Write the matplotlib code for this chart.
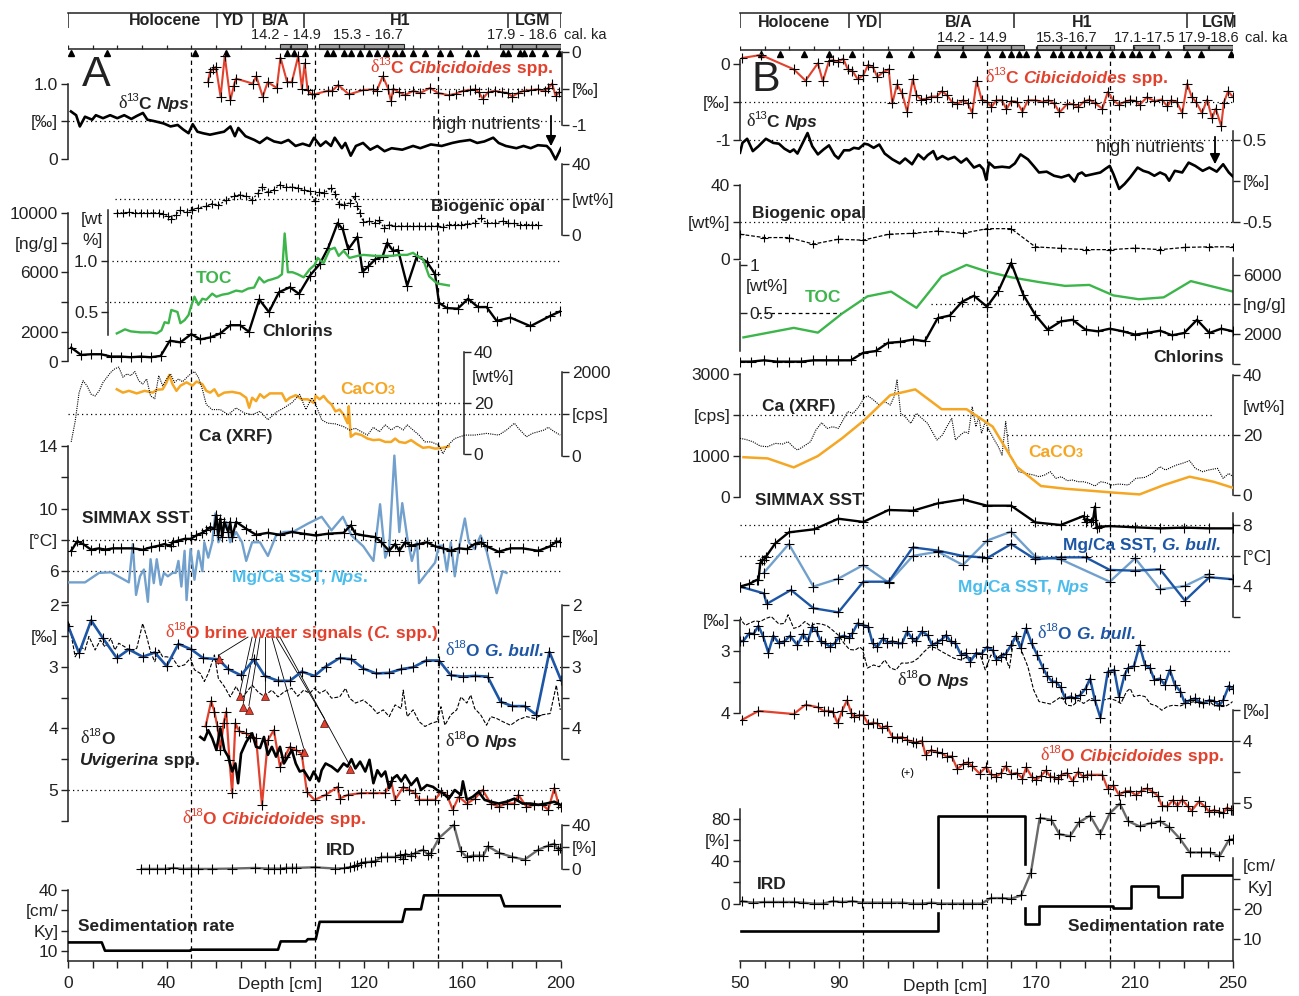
import matplotlib
matplotlib.use('Agg')
import matplotlib.pyplot as plt
from matplotlib.patches import Rectangle
import numpy as np

plt.rcParams['font.family'] = ['Liberation Sans', 'DejaVu Sans']

# ======================= DATA =======================
# ---------- Panel A (depth 0-200 cm) ----------
a_epoch_bounds = [0, 60.4, 74.9, 95.7, 178.3, 200]
a_epoch_names = ['Holocene', 'YD', 'B/A', 'H1', 'LGM']
a_epoch_label_depth = [39.4, 67.0, 84.4, 134.7, 188.6]
a_age_boxes = [(86.2, 97.0), (102.0, 136.4), (175.4, 200.0)]
a_age_box_dividers = [90.5, 110, 120, 129.9, 180.2, 190]
a_age_labels = ['14.2 - 14.9', '15.3 - 16.7', '17.9 - 18.6', 'cal. ka']
a_age_label_depth = [88.6, 121.5, 184.0, 210.0]
a_age_points = [1.2, 16, 51.5, 64, 89, 91.5, 96, 105, 107.4, 111.8, 115, 118.3, 122.3,
                125.5, 129, 132.8, 135.6, 140, 145, 150.8, 155, 162.4, 165.7, 176.6,
                178.3, 183.4, 184.8, 188.4, 193.5, 199.3]
a_boundaries = [50, 100, 150]

a_c13cib_d = [56.8, 57.6, 58.7, 60.0, 61.9, 63.6, 65.9, 67.2, 68.1, 74.9, 76.4, 79.0, 81.0, 84.7,
              86.2, 88.9, 90.8, 93.4, 94.9, 96.0, 97.2, 98.8, 99.8, 105.3, 107.2, 109.6, 114.0,
              119.7, 123.8, 125.2, 127.7, 129.9, 131.0, 132.0, 134.2, 136.7, 140.0, 142.9, 146.9,
              150.1, 154.4, 157.3, 160.2, 163.1, 165.3, 166.7, 168.2, 170.4, 173.2, 176.1, 178.3,
              180.2, 182.6, 184.8, 187.7, 190.6, 193.5, 194.9, 196.4, 197.8, 199.3]
a_c13cib = [-0.41, -0.27, -0.23, -0.20, -0.61, -0.05, -0.66, -0.47, -0.36, -0.43, -0.33, -0.61,
            -0.41, -0.49, -0.07, -0.41, -0.41, -0.05, -0.50, -0.15, -0.52, -0.58, -0.58, -0.53,
            -0.53, -0.45, -0.58, -0.52, -0.51, -0.53, -0.33, -0.50, -0.67, -0.50, -0.55, -0.59,
            -0.53, -0.56, -0.49, -0.56, -0.59, -0.57, -0.53, -0.52, -0.51, -0.55, -0.64, -0.55,
            -0.53, -0.55, -0.56, -0.61, -0.56, -0.53, -0.52, -0.51, -0.53, -0.49, -0.43, -0.60, -0.55]

a_c13nps_d = [1.2, 3.3, 4.8, 6.9, 9.8, 11.3, 14.2, 17.1, 20.0, 22.8, 25.7, 27.9, 30.4, 32.2, 35.1,
              38.8, 41.6, 44.5, 46.7, 48.9, 50.6, 52.5, 54.7, 57.6, 60.4, 63.3, 65.9, 67.7, 69.1,
              72.0, 75.6, 77.8, 80.7, 83.6, 86.5, 89.4, 92.3, 95.2, 98.0, 99.8, 102.4, 104.6,
              106.7, 108.2, 111.1, 112.5, 114.7, 116.8, 119.7, 122.6, 125.5, 128.4, 131.3, 135.6,
              140.0, 142.9, 147.2, 151.6, 155.9, 158.8, 163.1, 166.0, 168.9, 172.5, 174.7, 177.6,
              181.9, 184.8, 187.7, 190.6, 194.2, 195.7, 197.8, 200.0]
a_c13nps = [0.63, 0.58, 0.43, 0.56, 0.52, 0.58, 0.54, 0.58, 0.54, 0.58, 0.53, 0.57, 0.61, 0.52,
            0.50, 0.47, 0.43, 0.45, 0.39, 0.34, 0.46, 0.36, 0.34, 0.32, 0.34, 0.36, 0.43, 0.30,
            0.41, 0.30, 0.25, 0.21, 0.28, 0.23, 0.21, 0.25, 0.17, 0.20, 0.17, 0.28, 0.17, 0.23,
            0.17, 0.28, 0.14, 0.21, 0.04, 0.17, 0.21, 0.12, 0.17, 0.10, 0.14, 0.12, 0.17, 0.14,
            0.19, 0.17, 0.21, 0.23, 0.25, 0.21, 0.23, 0.28, 0.21, 0.17, 0.14, 0.17, 0.14, 0.18,
            0.17, 0.12, -0.01, 0.14]

a_opal_d = [19.8, 22.3, 24.7, 27.1, 29.5, 31.9, 34.4, 36.8, 38.4, 40.5, 41.9, 43.7, 45.6, 48.1,
            50.5, 52.9, 56.1, 58.5, 61.0, 64.2, 67.4, 69.8, 72.3, 74.7, 77.1, 78.7, 81.1, 83.5,
            86.0, 88.4, 90.8, 93.2, 95.6, 98.1, 100.0, 101.8, 104.0, 106.6, 108.5, 109.8, 111.8,
            114.2, 116.3, 117.4, 118.5, 119.8, 122.3, 124.7, 126.3, 128.2, 130.3, 132.7, 135.2,
            137.6, 140.0, 142.4, 144.8, 147.3, 149.7, 152.1, 154.5, 156.9, 159.4, 161.8, 165.0,
            167.4, 169.8, 173.1, 176.3, 178.7, 181.1, 183.5, 186.0, 188.4, 190.8]
a_opal = [12.2, 12.2, 12.5, 12.2, 12.2, 12.2, 12.2, 12.2, 11.8, 10.7, 8.8, 11.2, 13.7, 12.5, 14.0,
          15.0, 15.9, 17.4, 16.6, 19.3, 21.9, 22.4, 21.5, 19.6, 23.4, 26.7, 23.7, 25.2, 28.1, 26.7,
          26.7, 26.2, 25.2, 24.3, 18.7, 23.7, 23.4, 26.2, 23.0, 17.4, 16.8, 17.8, 21.5, 16.3, 12.2,
          6.9, 7.5, 6.5, 8.0, 3.7, 5.6, 4.7, 4.7, 4.7, 4.7, 4.7, 4.7, 4.7, 4.7, 4.3, 5.6, 5.6, 5.6,
          6.0, 6.5, 9.4, 6.5, 6.5, 7.5, 6.2, 6.2, 5.6, 5.6, 5.6, 5.6]

a_chl_d = [1.3, 5.3, 9.4, 13.4, 17.4, 21.5, 25.5, 29.5, 33.5, 37.6, 41.3, 45.6, 50.0, 53.7, 57.7,
           61.8, 65.8, 69.8, 73.4, 77.6, 81.5, 85.6, 90.0, 93.7, 98.1, 102.1, 105.6, 109.4, 111.5,
           113.7, 117.4, 119.5, 121.8, 124.7, 127.6, 129.5, 131.9, 133.9, 137.6, 141.6, 145.6,
           148.9, 150.5, 153.7, 158.1, 162.3, 166.3, 169.8, 173.9, 179.5, 187.6, 195.6, 199.7]
a_chl = [933, 444, 489, 489, 333, 333, 289, 333, 289, 378, 1400, 1289, 1844, 1489, 1622, 1889,
         2444, 2444, 2000, 4178, 3333, 4667, 5000, 4556, 5778, 6556, 7667, 9333, 8889, 7556, 8400,
         6044, 6400, 6889, 7067, 8000, 7444, 7511, 5111, 7111, 6711, 5889, 3956, 3600, 3556, 4222,
         3667, 3667, 2733, 2956, 2378, 3067, 3378]

a_toc_d = [19.8, 21.5, 23.1, 25.5, 29.5, 33.5, 36.0, 37.9, 39.2, 40.8, 41.9, 43.2, 44.4, 45.6,
           47.3, 48.9, 50.0, 51.3, 52.9, 54.5, 56.1, 58.5, 60.2, 62.6, 65.0, 68.2, 70.6, 73.1,
           75.5, 77.6, 79.5, 81.1, 82.7, 85.2, 86.8, 87.9, 89.2, 91.1, 93.2, 95.6, 98.1, 100.0,
           101.3, 103.7, 106.1, 108.2, 109.8, 111.8, 114.2, 117.4, 119.8, 124.7, 131.1, 134.4,
           137.6, 140.0, 141.6, 144.0, 146.5, 149.7, 152.1, 154.5]
a_toc = [0.29, 0.31, 0.33, 0.31, 0.30, 0.30, 0.29, 0.32, 0.40, 0.39, 0.52, 0.51, 0.50, 0.39, 0.42,
         0.47, 0.56, 0.65, 0.57, 0.63, 0.62, 0.68, 0.65, 0.67, 0.68, 0.71, 0.70, 0.73, 0.74, 0.84,
         0.79, 0.81, 0.82, 0.84, 0.87, 1.27, 0.89, 0.89, 0.87, 0.84, 0.92, 0.96, 1.03, 0.98, 1.11,
         1.13, 1.05, 1.10, 1.03, 1.05, 1.06, 1.05, 1.05, 1.06, 1.06, 1.08, 1.05, 1.02, 0.85, 0.78,
         0.77, 0.76]

a_caco3_d = [19.8, 22.3, 24.7, 27.9, 31.1, 34.4, 36.0, 38.4, 40.0, 41.1, 42.4, 44.0, 45.6, 48.1,
             50.5, 52.1, 54.5, 56.1, 57.7, 59.4, 61.0, 63.4, 66.6, 69.8, 72.3, 73.5, 74.7, 76.3,
             77.9, 79.5, 81.9, 84.4, 86.8, 88.4, 90.0, 92.4, 94.8, 97.3, 99.7, 100.5, 102.1, 103.7,
             105.3, 106.9, 108.5, 110.2, 111.8, 113.4, 113.9, 114.7, 116.6, 119.0, 121.5, 123.9,
             126.3, 128.7, 131.1, 132.7, 134.4, 136.8, 139.2, 141.6, 144.0, 146.5, 148.9, 152.1, 154.5]
a_caco3 = [25.4, 24.1, 24.8, 23.8, 24.8, 24.1, 25.2, 25.4, 28.1, 31.0, 27.4, 24.8, 26.8, 28.1, 26.8,
           28.4, 27.4, 24.8, 24.1, 25.4, 22.8, 24.1, 24.4, 23.8, 22.1, 18.2, 22.1, 20.8, 23.5, 22.1,
           23.8, 23.8, 23.8, 20.8, 22.1, 23.1, 21.5, 21.5, 20.1, 22.8, 21.5, 22.8, 20.8, 19.5, 16.8,
           17.5, 15.5, 12.2, 18.8, 6.9, 8.2, 7.6, 6.2, 5.6, 5.8, 4.9, 4.9, 6.2, 4.9, 4.5, 5.6, 4.0,
           2.6, 2.9, 2.3, 2.6, 3.2]

a_ca_d = [1.3, 2.9, 4.5, 6.1, 7.7, 9.4, 11.0, 12.6, 14.2, 15.8, 17.4, 19.0, 20.6, 22.3, 23.9, 25.5,
          27.1, 28.7, 30.3, 31.9, 33.5, 35.2, 36.8, 38.4, 40.0, 41.6, 43.2, 44.8, 46.5, 48.9, 51.3,
          52.9, 54.5, 56.1, 58.5, 61.8, 65.0, 68.2, 71.5, 74.7, 77.9, 81.1, 84.4, 87.6, 90.8, 94.0,
          96.5, 98.9, 100.5, 102.9, 105.3, 108.5, 111.8, 114.2, 116.6, 119.0, 121.5, 123.9, 126.3,
          128.7, 131.1, 133.5, 136.0, 137.6, 140.0, 142.4, 144.8, 147.3, 150.5, 152.1, 153.7,
          156.9, 161.0, 165.0, 169.8, 174.7, 177.9, 181.1, 182.7, 186.0, 188.4, 190.8, 193.2,
          194.8, 197.3, 199.7]
a_ca = [327, 816, 1510, 1796, 1673, 1469, 1429, 1551, 1755, 1878, 2000, 2082, 2122, 1878, 1959,
        1918, 2016, 1796, 1714, 1837, 1429, 1363, 1918, 1673, 1837, 1959, 1755, 1837, 1771, 1918,
        2016, 1878, 1592, 1224, 1102, 1102, 980, 1143, 1020, 980, 1061, 857, 1037, 1143, 1265,
        1469, 1102, 1388, 1224, 857, 776, 759, 694, 612, 653, 571, 490, 678, 571, 735, 612, 710,
        612, 735, 612, 490, 327, 327, 245, 41, 220, 408, 490, 490, 531, 490, 612, 776, 653, 449,
        531, 571, 612, 678, 571, 490]

a_simmax_d = [1.3, 3.7, 6.1, 9.4, 12.6, 15.0, 18.2, 21.5, 26.3, 30.3, 33.5, 36.8, 39.2, 41.6, 42.4,
              44.8, 47.3, 49.7, 52.1, 54.5, 56.1, 57.7, 59.4, 60.2, 61.0, 61.8, 62.6, 63.4, 65.0,
              65.8, 66.6, 68.2, 72.3, 76.3, 81.1, 86.0, 90.8, 95.6, 100.5, 105.3, 111.8, 114.7,
              116.6, 119.8, 124.7, 127.1, 130.3, 132.7, 134.4, 136.8, 139.2, 142.4, 145.6, 148.9,
              152.1, 155.3, 158.5, 161.8, 165.0, 167.4, 169.8, 174.7, 179.5, 184.4, 190.8, 195.6,
              198.1, 199.7]
a_simmax = [7.28, 7.89, 7.72, 7.35, 7.44, 7.35, 7.44, 7.44, 7.44, 7.35, 7.50, 7.61, 7.72, 7.57,
            7.83, 7.94, 8.05, 8.05, 8.27, 8.44, 8.60, 8.81, 8.70, 9.58, 8.27, 9.36, 8.16, 9.14,
            8.49, 9.14, 8.16, 9.14, 8.70, 8.31, 8.44, 8.31, 8.49, 8.38, 8.27, 8.38, 8.44, 8.92,
            8.38, 8.27, 8.16, 7.83, 7.28, 7.72, 7.28, 7.83, 7.61, 7.72, 7.83, 7.57, 7.44, 7.28,
            7.44, 7.39, 7.72, 7.83, 7.57, 7.22, 7.44, 7.44, 7.28, 7.57, 7.87, 7.87]

a_mgca_d = [0.5, 6.9, 12.6, 17.4, 24.7, 26.3, 27.6, 29.2, 30.8, 32.4, 33.5, 34.8, 36.0, 37.6, 38.9,
            40.5, 42.4, 43.7, 44.8, 46.0, 47.3, 48.1, 49.7, 51.3, 52.9, 54.5, 55.3, 56.9, 58.5,
            59.8, 61.0, 62.6, 64.2, 65.8, 68.2, 70.6, 72.3, 74.7, 77.9, 81.1, 84.4, 87.6, 91.6,
            97.3, 102.9, 106.9, 111.5, 115.0, 119.8, 123.9, 126.6, 128.7, 130.3, 132.4, 134.4,
            135.6, 137.6, 139.5, 141.6, 142.4, 145.6, 148.9, 150.5, 152.1, 153.7, 155.3, 156.9,
            158.5, 161.0, 162.6, 165.0, 167.4, 169.8, 173.9, 176.3, 177.9]
a_mgca = [5.25, 5.25, 5.86, 5.90, 5.25, 7.72, 4.44, 5.64, 6.08, 4.00, 6.74, 5.20, 6.74, 5.09, 5.86,
          5.64, 5.86, 5.86, 6.63, 4.98, 7.28, 4.11, 7.39, 5.42, 7.28, 5.97, 7.83, 6.84, 7.83, 9.69,
          7.83, 8.38, 9.14, 7.83, 8.49, 7.83, 6.63, 7.83, 7.83, 6.95, 8.27, 8.49, 8.53, 9.03, 9.47,
          8.60, 9.47, 8.27, 7.57, 6.63, 10.28, 6.84, 7.50, 13.41, 8.49, 10.35, 8.16, 6.63, 7.83,
          5.20, 5.86, 6.52, 7.61, 7.61, 5.97, 7.83, 5.64, 7.39, 9.36, 7.83, 7.39, 8.27, 7.28, 4.55,
          5.97, 5.86]

a_gbull_d = [0.0, 4.5, 9.4, 14.2, 19.8, 24.7, 30.3, 35.2, 40.0, 44.8, 50.0, 54.8, 61.0, 65.0, 70.2,
             75.5, 79.8, 85.2, 90.0, 94.8, 100.0, 104.5, 110.2, 115.0, 119.8, 125.0, 130.3, 135.2,
             140.0, 145.3, 150.5, 155.3, 160.2, 165.0, 170.2, 175.5, 180.3, 185.2, 190.0, 195.3, 200.0]
a_gbull = [2.34, 2.78, 2.25, 2.54, 2.86, 2.72, 2.84, 2.77, 2.99, 2.63, 2.72, 2.86, 2.88, 3.04, 3.14,
           2.88, 3.15, 3.23, 3.23, 3.08, 3.15, 3.00, 2.86, 2.88, 3.03, 3.11, 3.10, 3.04, 3.01, 2.90,
           2.90, 3.14, 3.16, 3.15, 3.16, 3.57, 3.64, 3.64, 3.78, 2.76, 3.22]

a_o18nps_d = [0.5, 2.9, 5.3, 6.9, 8.5, 11.0, 13.1, 15.0, 17.4, 19.0, 20.6, 23.1, 25.5, 27.9, 30.3,
              31.9, 33.5, 35.2, 36.8, 38.4, 40.0, 42.4, 44.8, 47.3, 49.7, 51.3, 53.7, 55.3, 56.9,
              59.4, 61.0, 63.4, 65.8, 68.2, 70.6, 73.1, 74.7, 77.1, 79.5, 82.7, 85.2, 87.6, 90.8,
              93.2, 95.6, 98.1, 100.0, 102.1, 104.5, 106.9, 110.2, 112.6, 114.2, 116.6, 119.8,
              123.1, 125.5, 127.9, 130.3, 132.7, 135.2, 136.0, 137.6, 140.0, 142.4, 144.8, 147.3,
              149.7, 151.3, 152.9, 155.3, 157.7, 159.4, 161.8, 163.4, 165.0, 167.4, 169.8, 171.5,
              173.9, 176.3, 179.5, 182.7, 186.0, 189.2, 192.4, 195.6, 198.1, 199.7]
a_o18nps = [2.30, 2.84, 2.68, 2.73, 2.51, 2.73, 2.57, 2.68, 2.54, 2.73, 2.62, 2.68, 2.76, 2.70, 2.30,
            2.51, 2.76, 2.92, 2.73, 2.84, 2.84, 2.86, 3.00, 2.97, 2.86, 3.05, 3.11, 3.24, 3.11, 2.81,
            3.19, 3.32, 3.49, 3.32, 3.51, 3.38, 3.30, 3.41, 3.48, 3.38, 3.49, 3.41, 3.35, 3.48, 3.38,
            3.43, 3.35, 3.43, 3.38, 3.51, 3.49, 3.35, 3.51, 3.59, 3.54, 3.65, 3.76, 3.70, 3.81, 3.62,
            3.68, 3.38, 3.81, 3.70, 3.89, 3.97, 3.92, 3.89, 3.65, 3.95, 3.78, 3.70, 3.49, 3.59, 3.46,
            3.68, 3.78, 3.95, 3.81, 3.84, 3.89, 3.95, 3.86, 3.81, 3.84, 3.78, 3.76, 3.30, 3.70]

a_uvi_d = [53.7, 55.3, 56.9, 58.5, 60.2, 61.8, 63.4, 65.0, 66.6, 67.9, 69.0, 70.2, 72.3, 74.7,
           76.3, 77.9, 79.5, 81.1, 82.7, 84.4, 86.0, 87.6, 89.2, 90.8, 92.4, 94.0, 95.6, 98.1,
           99.7, 101.8, 102.9, 104.5, 106.9, 109.4, 111.8, 113.4, 115.0, 116.6, 118.5, 120.6,
           122.3, 123.9, 125.5, 127.1, 128.7, 130.3, 131.9, 133.5, 135.2, 136.8, 139.2, 141.6,
           143.2, 145.6, 148.1, 149.7, 152.1, 154.5, 156.9, 159.4, 160.2, 161.8, 164.2, 166.6,
           169.0, 171.5, 174.7, 177.9, 181.1, 184.4, 187.6, 190.8, 194.0, 197.3, 199.7]
a_uvi = [4.14, 4.19, 4.03, 4.16, 4.35, 4.00, 4.35, 4.46, 4.70, 4.57, 4.89, 4.41, 4.22, 4.08, 4.30,
         4.32, 4.14, 4.43, 4.30, 4.46, 4.30, 4.57, 4.46, 4.35, 4.57, 4.70, 4.68, 4.84, 4.70, 4.86,
         4.68, 4.57, 4.62, 4.70, 4.57, 4.62, 4.50, 4.65, 4.54, 4.70, 4.51, 4.89, 4.68, 4.78, 4.70,
         4.97, 4.81, 4.76, 4.86, 4.76, 4.92, 4.81, 5.00, 4.92, 4.95, 5.00, 5.05, 5.14, 5.00, 5.08,
         4.86, 5.16, 5.11, 5.03, 5.16, 5.19, 5.22, 5.19, 5.14, 5.22, 5.22, 5.24, 5.22, 5.19, 5.24]

a_o18cib_d = [55.8, 58.1, 59.4, 60.6, 61.8, 63.1, 64.2, 65.5, 66.6, 67.9, 69.5, 72.3, 73.9, 76.3,
              78.7, 81.1, 83.5, 86.0, 87.9, 90.0, 92.4, 94.8, 96.9, 100.0, 104.5, 109.4, 110.2,
              113.4, 119.0, 123.9, 128.7, 131.1, 132.7, 136.0, 138.4, 140.8, 142.4, 145.6, 148.9,
              151.3, 153.7, 156.1, 158.5, 161.8, 165.0, 168.2, 171.5, 174.7, 177.9, 181.1, 182.7,
              186.0, 189.2, 192.4, 194.8, 197.3, 198.9, 200.0]
a_o18cib = [3.97, 3.56, 3.73, 3.97, 4.35, 3.92, 3.73, 4.51, 5.05, 3.92, 4.05, 4.08, 4.14, 4.16,
            5.24, 4.19, 4.03, 4.62, 4.46, 4.30, 4.35, 4.41, 5.03, 5.16, 5.08, 4.95, 5.14, 5.08,
            5.05, 5.05, 5.05, 4.86, 5.16, 4.95, 5.00, 5.05, 5.16, 5.16, 5.16, 5.03, 5.08, 5.32,
            5.11, 5.22, 5.14, 5.00, 5.22, 5.27, 5.22, 5.22, 5.08, 5.27, 5.24, 5.24, 5.32, 4.97,
            5.22, 5.27]

a_brine_d = [61.3, 69.8, 71.1, 73.4, 79.8, 95.6, 104.0, 114.2]
a_brine = [2.88, 3.48, 3.66, 3.70, 3.48, 4.39, 3.91, 4.66]

a_ird_d = [29.8, 32.7, 36.0, 39.2, 42.7, 46.5, 50.0, 52.9, 58.5, 66.6, 76.0, 81.1, 83.5, 86.0,
           88.4, 90.8, 92.4, 100.0, 108.5, 111.8, 114.2, 116.1, 117.4, 119.0, 120.6, 123.1, 124.7,
           127.1, 129.5, 132.7, 134.7, 136.0, 136.8, 139.2, 140.8, 144.0, 146.0, 147.3, 150.5,
           156.5, 159.4, 161.8, 164.2, 166.6, 168.5, 170.3, 175.0, 180.3, 185.2, 190.8, 194.8,
           197.3, 198.9, 199.7]
a_ird = [0, 0, 0, 0, 0.9, 0, 0.3, 0, 0, 0.3, 0.9, 0.3, 0.3, 0.3, 0.9, 0.9, 0.9, 1.5, 0.3, 0.6, 1.5,
         2.4, 3.6, 5.4, 6.0, 6.6, 6.9, 10.8, 10.8, 10.8, 12.9, 9.0, 13.8, 11.4, 14.4, 17.4, 12.9,
         14.4, 28.0, 40.0, 15.9, 10.8, 12.0, 12.0, 12.0, 20.5, 14.4, 10.8, 8.4, 17.4, 21.1, 22.9,
         17.4, 19.0]

a_sed_d = [0, 13.7, 15.0, 49.7, 50.0, 85.2, 86.3, 96.5, 97.3, 100.5, 102.1, 135.6, 136.8, 143.2,
           144.4, 175.5, 177.1, 200]
a_sed = [14.1, 14.1, 10.0, 10.0, 10.5, 10.5, 14.6, 14.6, 15.7, 15.7, 24.3, 24.3, 30.5, 30.5, 37.4,
         37.4, 32.0, 32.0]

# ---------- Panel B (depth 50-250 cm) ----------
b_epoch_bounds = [50, 94.4, 106.8, 161, 231.4, 250]
b_epoch_names = ['Holocene', 'YD', 'B/A', 'H1', 'LGM']
b_epoch_label_depth = [71.9, 101.5, 138.8, 188.7, 244.5]
b_age_boxes = [(129.9, 165.3), (170.6, 201.8), (209.4, 219.9), (229.9, 250.0)]
b_age_box_dividers = [140.4, 150.2, 160, 180.4, 190.5, 240.4]
b_age_labels = ['14.2 - 14.9', '15.3-16.7', '17.1-17.5', '17.9-18.6', 'cal. ka']
b_age_label_depth = [144.1, 182.7, 214.0, 240.0, 263.5]
b_age_points = [58.5, 66.1, 76, 86.1, 95.6, 110.3, 119.3, 129.9, 140.4, 150.2, 156.3, 160, 163,
                166, 170.6, 177.1, 180.4, 184.2, 187.9, 191.7, 195.5, 200.8, 204.8, 209, 212,
                217.3, 223.8, 231.4, 237, 249]
b_boundaries = [100, 150, 200]

b_c13cib_d = [51.0, 58.5, 71.8, 76.6, 81.6, 83.6, 86.1, 87.6, 89.9, 91.9, 93.7, 95.6, 97.7, 100.0,
              102.0, 103.9, 105.7, 108.0, 110.3, 111.8, 113.7, 115.8, 117.8, 120.1, 121.6, 123.4,
              125.3, 127.6, 129.9, 131.8, 133.9, 135.9, 138.2, 140.4, 142.4, 144.2, 146.0, 148.0,
              150.2, 152.0, 154.0, 156.3, 158.1, 160.0, 162.3, 164.6, 166.8, 169.8, 172.9, 175.1,
              177.4, 179.6, 182.7, 184.9, 187.2, 189.4, 191.7, 194.0, 197.0, 199.2, 201.5, 203.8,
              206.0, 208.3, 210.6, 212.1, 215.1, 218.1, 221.1, 223.4, 224.9, 227.1, 229.4, 231.4,
              233.2, 235.0, 237.4, 239.5, 241.5, 243.0, 245.2, 246.3, 248.0, 249.8]
b_c13cib = [0.08, 0.12, -0.07, -0.22, 0.01, -0.23, 0.04, 0.05, 0.03, 0.07, -0.07, -0.09, -0.20,
            -0.15, -0.01, -0.04, -0.17, -0.11, -0.07, -0.52, -0.27, -0.39, -0.63, -0.20, -0.41,
            -0.47, -0.46, -0.43, -0.43, -0.36, -0.41, -0.50, -0.53, -0.48, -0.52, -0.65, -0.22,
            -0.47, -0.50, -0.57, -0.48, -0.48, -0.60, -0.49, -0.50, -0.63, -0.48, -0.48, -0.50,
            -0.48, -0.52, -0.64, -0.53, -0.53, -0.57, -0.50, -0.47, -0.52, -0.59, -0.37, -0.48,
            -0.54, -0.50, -0.48, -0.49, -0.54, -0.44, -0.49, -0.47, -0.56, -0.48, -0.50, -0.65,
            -0.26, -0.43, -0.50, -0.65, -0.47, -0.72, -0.59, -0.82, -0.51, -0.36, -0.43]

b_c13nps_d = [50.0, 51.0, 52.9, 55.2, 57.5, 60.5, 63.5, 65.8, 68.0, 70.3, 71.8, 73.3, 74.8, 77.4,
              79.3, 81.6, 83.9, 86.1, 88.4, 89.9, 92.2, 94.4, 96.2, 98.2, 100.5, 102.0, 104.2,
              106.5, 108.7, 111.8, 114.8, 117.0, 119.8, 122.3, 124.6, 126.1, 128.4, 129.9, 132.1,
              134.4, 137.0, 139.7, 141.9, 144.9, 147.2, 148.7, 149.9, 151.0, 153.2, 156.3, 159.3,
              161.5, 163.8, 166.8, 169.1, 171.3, 174.4, 177.4, 180.4, 183.4, 185.7, 187.2, 188.7,
              190.2, 193.2, 196.2, 198.5, 200.0, 201.5, 203.8, 206.0, 208.3, 211.3, 213.6, 215.8,
              218.1, 220.4, 222.6, 224.1, 226.4, 229.4, 232.0, 234.7, 237.7, 240.4, 243.4, 246.0,
              248.3, 250.0]
b_c13nps = [0.34, 0.46, 0.51, 0.36, 0.42, 0.51, 0.46, 0.45, 0.39, 0.35, 0.38, 0.33, 0.42, 0.58,
            0.42, 0.32, 0.38, 0.43, 0.31, 0.27, 0.37, 0.37, 0.40, 0.39, 0.45, 0.44, 0.40, 0.44,
            0.33, 0.26, 0.21, 0.27, 0.20, 0.32, 0.26, 0.31, 0.36, 0.26, 0.30, 0.26, 0.29, 0.22,
            0.27, 0.16, 0.19, 0.14, 0.01, 0.22, 0.16, 0.17, 0.16, 0.21, 0.32, 0.26, 0.18, 0.10,
            0.11, 0.06, 0.04, 0.07, -0.01, 0.08, 0.10, 0.06, 0.08, 0.10, 0.15, 0.18, 0.08, -0.10,
            -0.04, 0.04, 0.16, 0.12, 0.10, 0.06, 0.10, 0.07, 0.00, 0.12, 0.10, 0.22, 0.18, 0.12,
            0.16, 0.11, 0.20, 0.10, 0.05]

b_opal_d = [50.0, 59.7, 69.8, 79.8, 89.9, 100.0, 110.3, 120.1, 130.2, 140.4, 150.2, 160.0, 169.8,
            180.1, 190.2, 200.3, 210.3, 220.4, 230.5, 240.4, 250.0]
b_opal = [13.3, 11.5, 11.5, 8.0, 10.6, 10.1, 13.3, 13.8, 15.0, 13.8, 16.3, 16.3, 6.5, 5.7, 5.0,
          5.0, 5.8, 5.0, 6.2, 6.5, 6.5]

b_toc_d = [51.4, 71.8, 81.6, 91.4, 101.7, 111.3, 121.6, 131.8, 141.9, 150.2, 160.0, 171.3, 181.9,
           191.7, 201.5, 211.8, 221.9, 232.9, 250.0]
b_toc = [0.24, 0.34, 0.29, 0.49, 0.67, 0.72, 0.55, 0.88, 1.00, 0.93, 0.87, 0.82, 0.78, 0.79, 0.68,
         0.64, 0.66, 0.83, 0.72]

b_chl_d = [50.0, 54.4, 59.7, 65.0, 69.8, 74.8, 79.8, 84.9, 89.9, 94.9, 100.0, 105.0, 110.0, 115.1,
           120.1, 125.0, 130.2, 135.1, 140.1, 144.9, 150.2, 154.8, 160.0, 165.0, 169.8, 174.8,
           180.1, 184.9, 190.2, 195.2, 200.0, 205.3, 210.3, 215.1, 220.4, 225.3, 230.2, 235.4,
           240.4, 245.2, 250.0]
b_chl = [133, 133, 222, 133, 133, 133, 222, 222, 222, 222, 733, 844, 1400, 1467, 1622, 1511, 3067,
         3244, 4178, 4578, 3844, 4889, 6800, 4622, 3289, 2289, 2844, 2956, 2289, 2178, 2356, 2178,
         1956, 2067, 2222, 1911, 2067, 2956, 2067, 2356, 2178]

b_ca_d = [50.0, 52.2, 55.2, 58.2, 61.2, 64.3, 67.3, 69.5, 71.8, 73.3, 75.6, 78.6, 80.8, 83.1, 85.4,
          87.6, 89.9, 92.2, 93.7, 95.9, 98.2, 100.5, 102.0, 104.2, 106.5, 108.7, 111.0, 112.5,
          113.7, 115.2, 117.0, 119.3, 121.6, 123.8, 126.1, 127.6, 129.9, 132.1, 133.9, 135.9,
          137.4, 139.4, 141.2, 142.7, 144.2, 145.7, 146.9, 148.0, 149.5, 151.0, 153.2, 154.8,
          156.3, 157.8, 159.3, 160.8, 163.0, 166.1, 169.1, 171.3, 173.6, 175.9, 178.1, 180.4,
          182.7, 184.9, 187.2, 189.4, 191.7, 194.0, 196.2, 198.5, 200.8, 203.8, 207.5, 210.6,
          214.3, 217.3, 220.4, 222.6, 224.9, 227.1, 229.4, 232.4, 234.7, 237.7, 240.0, 243.7,
          246.0, 248.3, 250.0]
b_ca = [1429, 1404, 1347, 1241, 1224, 1306, 1290, 1347, 1208, 1143, 1224, 1347, 1633, 1812, 1673,
        1714, 1673, 1918, 2082, 2041, 2204, 2433, 2465, 2367, 2245, 2327, 2245, 2449, 2857, 2041,
        1959, 1796, 2041, 1918, 1796, 1633, 1388, 1510, 1714, 1918, 1388, 1510, 1592, 1551, 2204,
        1714, 1959, 1551, 1837, 1633, 1388, 1224, 1020, 1837, 1020, 898, 612, 571, 531, 490, 531,
        612, 449, 490, 392, 408, 367, 367, 327, 261, 367, 343, 286, 310, 286, 449, 473, 571, 735,
        653, 718, 776, 816, 882, 694, 612, 653, 694, 449, 571, 490]

b_caco3_d = [51.4, 61.2, 71.8, 81.6, 91.4, 100.5, 111.0, 121.1, 131.8, 141.9, 152.5, 162.3, 172.1,
             181.9, 192.5, 201.5, 212.1, 221.9, 232.4, 242.2, 250.0]
b_caco3 = [12.6, 12.2, 9.2, 13.0, 18.9, 25.0, 33.3, 35.2, 28.6, 28.6, 22.8, 9.4, 3.0, 2.1, 1.4,
           0.8, 0.2, 3.3, 6.1, 4.4, 2.4]

b_simmax_d = [50.0, 53.7, 56.7, 57.5, 58.2, 59.0, 59.7, 60.5, 64.3, 69.8, 80.1, 89.9, 100.0, 110.3,
              120.1, 130.2, 140.4, 150.2, 160.0, 169.8, 180.1, 189.4, 190.2, 190.9, 192.5, 193.2,
              194.0, 194.7, 195.5, 200.0, 210.3, 220.4, 230.2, 240.4, 250.0]
b_simmax = [3.98, 4.15, 4.41, 4.41, 5.50, 5.72, 5.72, 5.93, 6.80, 7.52, 7.72, 8.41, 8.20, 8.98,
            8.93, 9.41, 9.67, 9.26, 9.26, 8.17, 8.00, 8.59, 8.22, 8.37, 8.22, 8.33, 9.20, 7.78,
            7.89, 7.93, 7.85, 7.78, 7.83, 7.78, 7.78]

b_mgca_gb_d = [50.0, 59.7, 60.8, 70.7, 79.8, 89.9, 100.0, 110.3, 120.1, 130.2, 140.4, 148.0, 150.2,
               160.0, 169.8, 180.1, 190.2, 200.0, 210.3, 220.4, 230.5, 240.4, 250.0]
b_mgca_gb = [3.98, 3.54, 2.85, 3.76, 2.57, 2.30, 4.30, 4.30, 6.54, 6.33, 5.98, 5.89, 5.83, 6.76,
             5.76, 5.89, 5.89, 5.07, 5.02, 5.11, 3.07, 4.59, 4.46]

b_mgca_nps_d = [59.7, 69.8, 79.8, 89.9, 100.0, 110.3, 120.1, 130.2, 140.4, 150.2, 160.0, 169.8,
                180.1, 200.0, 210.3, 220.4, 230.5, 240.4]
b_mgca_nps = [4.89, 6.76, 3.98, 4.50, 5.39, 4.24, 5.98, 6.26, 5.39, 6.98, 7.57, 5.93, 5.76, 4.30,
              5.83, 3.80, 4.02, 4.80]

b_gbull_d = [50.0, 51.4, 53.7, 55.5, 57.5, 59.4, 61.5, 63.5, 65.8, 68.0, 70.3, 73.3, 75.6, 77.5,
             79.3, 81.1, 82.7, 84.6, 86.6, 88.4, 90.2, 92.2, 94.4, 95.6, 97.7, 100.0, 102.0, 103.8,
             105.7, 108.0, 109.8, 111.8, 114.0, 115.8, 117.8, 119.8, 121.3, 123.8, 126.1, 127.9,
             129.9, 131.8, 133.6, 135.4, 137.4, 139.7, 141.5, 143.4, 145.7, 148.0, 150.2, 152.5,
             154.0, 156.0, 157.8, 160.0, 161.8, 163.8, 166.1, 168.3, 170.6, 172.9, 174.7, 176.6,
             178.1, 180.1, 181.9, 184.2, 185.7, 187.9, 190.2, 192.0, 194.0, 196.2, 199.2, 201.8,
             203.8, 206.0, 207.5, 209.8, 212.1, 214.3, 216.3, 218.1, 220.4, 222.3, 224.4, 226.4,
             228.7, 230.5, 232.4, 234.7, 236.2, 238.0, 240.4, 242.2, 244.5, 246.0, 248.3, 250.0]
b_gbull = [2.85, 2.84, 2.72, 2.73, 2.60, 2.77, 3.03, 2.76, 2.88, 2.85, 2.76, 2.91, 2.73, 2.85, 2.61,
           2.69, 2.85, 2.88, 2.94, 2.88, 2.78, 2.76, 2.80, 2.72, 2.56, 2.59, 2.61, 2.88, 2.94, 2.80,
           2.87, 2.85, 2.88, 2.88, 2.69, 2.80, 2.85, 2.69, 2.75, 2.91, 2.87, 2.82, 2.75, 2.85, 2.88,
           3.07, 3.04, 3.18, 3.04, 3.05, 2.94, 2.99, 3.15, 3.10, 3.05, 2.91, 2.77, 2.96, 2.64, 2.88,
           3.07, 3.28, 3.41, 3.50, 3.50, 3.59, 3.77, 3.74, 3.77, 3.72, 3.61, 3.45, 3.80, 4.08, 3.34,
           3.31, 3.74, 3.39, 3.28, 3.25, 2.91, 3.23, 3.28, 3.47, 3.45, 3.55, 3.31, 3.55, 3.66, 3.85,
           3.80, 3.77, 3.82, 3.85, 3.80, 3.81, 3.88, 3.80, 3.57, 3.61]

b_o18nps_d = [50.0, 50.7, 52.2, 53.7, 56.0, 58.2, 60.5, 62.7, 65.8, 68.0, 69.5, 71.8, 74.1, 76.3,
              78.6, 80.8, 83.1, 85.4, 87.6, 89.9, 92.2, 94.4, 96.7, 98.6, 99.7, 101.7, 104.2, 106.5,
              108.7, 111.0, 113.3, 115.5, 117.8, 120.1, 122.3, 124.6, 126.8, 129.1, 132.1, 134.4,
              136.7, 139.7, 141.9, 144.2, 147.2, 149.5, 151.8, 154.0, 157.0, 159.3, 160.8, 162.3,
              164.6, 166.8, 169.1, 171.3, 173.6, 175.9, 178.1, 180.4, 182.7, 184.9, 187.2, 189.4,
              192.5, 194.7, 197.0, 200.0, 202.3, 204.5, 206.8, 208.3, 209.8, 212.1, 214.3, 216.6,
              218.9, 221.1, 223.4, 225.6, 228.7, 231.7, 234.7, 237.7, 240.0, 242.2, 244.5, 246.8,
              249.0, 249.8]
b_o18nps = [2.45, 2.52, 2.59, 2.56, 2.52, 2.53, 2.48, 2.45, 2.57, 2.56, 2.42, 2.64, 2.61, 2.53, 2.60,
            2.56, 2.57, 2.60, 2.67, 2.75, 2.88, 2.98, 2.99, 2.94, 2.98, 3.28, 3.23, 3.26, 3.15, 3.28,
            3.31, 3.20, 3.20, 3.18, 3.12, 3.02, 2.94, 2.95, 3.02, 3.07, 3.12, 3.15, 3.10, 3.12, 3.04,
            3.31, 3.07, 3.12, 3.04, 3.28, 2.88, 2.72, 3.04, 3.26, 3.63, 3.82, 3.84, 3.86, 3.80, 3.74,
            3.88, 3.89, 3.80, 3.85, 3.77, 3.80, 3.80, 3.77, 3.80, 3.85, 3.66, 3.61, 3.74, 3.72, 3.74,
            3.86, 3.89, 3.96, 3.90, 3.88, 3.89, 3.84, 3.82, 3.85, 3.80, 3.88, 3.90, 3.90, 3.85, 3.82]

b_o18cib_d = [51.0, 57.5, 71.8, 76.6, 81.6, 83.9, 85.7, 87.6, 89.6, 91.4, 93.4, 95.2, 96.2, 98.2,
              100.0, 102.0, 103.8, 105.7, 107.5, 109.5, 111.8, 113.7, 115.8, 117.8, 120.1, 121.6,
              123.8, 125.3, 127.6, 129.9, 131.8, 133.9, 135.9, 138.2, 140.4, 142.4, 144.2, 147.2,
              149.9, 151.7, 154.0, 156.0, 157.8, 160.0, 162.3, 164.6, 166.1, 168.3, 170.1, 172.1,
              174.1, 175.9, 177.4, 179.2, 180.4, 182.7, 184.9, 187.2, 189.1, 190.9, 192.5, 197.0,
              199.2, 201.5, 203.8, 206.0, 208.3, 210.6, 212.8, 215.1, 217.3, 219.6, 221.1, 223.4,
              225.6, 227.4, 229.4, 231.7, 233.2, 236.2, 238.5, 240.4, 242.2, 244.5, 246.0, 247.5,
              249.0, 250.0]
b_o18cib = [3.66, 3.52, 3.57, 3.42, 3.46, 3.52, 3.52, 3.53, 3.72, 3.52, 3.35, 3.56, 3.61, 3.59,
            3.59, 3.73, 3.71, 3.72, 3.80, 3.76, 3.94, 3.95, 3.94, 3.99, 4.02, 4.03, 4.00, 4.23,
            4.15, 4.19, 4.20, 4.26, 4.25, 4.46, 4.38, 4.35, 4.41, 4.53, 4.42, 4.54, 4.58, 4.52,
            4.41, 4.54, 4.52, 4.61, 4.43, 4.58, 4.63, 4.57, 4.48, 4.58, 4.59, 4.62, 4.55, 4.52,
            4.65, 4.50, 4.58, 4.55, 4.55, 4.55, 4.78, 4.72, 4.88, 4.82, 4.81, 4.88, 4.81, 4.77,
            4.82, 4.89, 5.05, 5.06, 4.96, 5.05, 4.95, 5.06, 5.13, 4.98, 5.06, 5.15, 5.12, 5.15,
            5.17, 5.08, 5.11, 5.12]
b_o18cib_outlier = (117.8, 4.52)

b_ird_d = [50.7, 55.2, 59.7, 63.5, 67.3, 71.8, 75.6, 80.1, 83.6, 87.6, 91.4, 95.6, 99.5, 103.5,
           107.5, 111.3, 115.8, 120.1, 123.8, 127.6, 131.7, 135.9, 140.4, 144.2, 148.0, 151.7,
           156.3, 160.0, 164.1, 168.0, 171.6, 176.3, 179.6, 183.9, 187.6, 192.0, 196.2, 200.0,
           204.1, 207.5, 212.1, 216.6, 220.4, 224.1, 228.4, 232.4, 237.0, 240.7, 244.5, 248.3, 249.8]
b_ird = [2.2, 0.9, 1.5, 1.5, 1.5, 1.5, 0.9, 0, 0, 2.2, 1.5, 2.2, 0.9, 0.9, 0.9, 0.9, 0.9, 0, 0, 0.9,
         0, 0, 0, 0, 0, 5.2, 5.2, 4.6, 7.7, 29.2, 80.9, 79.1, 65.5, 63.7, 76.9, 83.1, 66.2, 85.2,
         94.5, 77.8, 72.9, 76.0, 77.8, 72.3, 61.5, 48.3, 48.3, 48.3, 44.6, 60.0, 60.6]

# gaps (nan) where the original curve is interrupted
b_sed_d = [50.4, 130.2, 130.2, np.nan, 130.2, 130.2, 165.6, 165.6, np.nan, 165.6, 165.6, 171.3,
           171.3, 201.5, 201.5, 208.7, 208.7, 219.6, 219.6, 229.4, 229.4, 250.0]
b_sed = [12.6, 12.6, 18.4, np.nan, 27.1, 51.0, 51.0, 34.7, np.nan, 20.2, 14.8, 14.8, 20.9, 20.9,
         20.2, 20.2, 27.4, 27.4, 23.7, 23.7, 31.1, 31.1]

# ======================= STYLE / LAYOUT =======================
W, H = 1299, 996
fig = plt.figure(figsize=(W / 100, H / 100), dpi=100)
fig.patch.set_facecolor('white')

PAN = {'A': (68, 561, 0, 200), 'B': (740, 1233, 50, 250)}
RED = '#e2412d'
GREEN = '#3cb54a'
ORANGE = '#f5a623'
LBLUE = '#72a0cd'
CYAN = '#4bbdec'
DBLUE = '#1d56a5'
GREY = '#6a6a6a'
INK = '#222222'
DOT = (0, (1, 2.6))


def vaxis(p, ya, va, yb, vb):
    """axes over the whole panel column, value va at pixel row ya, vb at yb"""
    x0, x1, d0, d1 = PAN[p]
    ax = fig.add_axes([x0 / W, 0, (x1 - x0) / W, 1])
    ax.set_xlim(d0, d1)
    s = (vb - va) / (yb - ya)
    ax.set_ylim(va + (H - ya) * s, va - ya * s)
    ax.patch.set_visible(False)
    for sp in ax.spines.values():
        sp.set_visible(False)
    ax.set_xticks([])
    ax.set_yticks([])
    ax.panel = p
    return ax


def yspine(ax, side, xpx, lo, hi, ticks, labels, size=12.5):
    x0, x1, d0, d1 = PAN[ax.panel]
    sp = ax.spines[side]
    sp.set_visible(True)
    sp.set_color(INK)
    sp.set_linewidth(1.1)
    sp.set_position(('axes', (xpx - x0) / (x1 - x0)))
    sp.set_bounds(lo, hi)
    if side == 'left':
        ax.yaxis.tick_left()
    else:
        ax.yaxis.tick_right()
    ax.set_yticks(ticks)
    ax.set_yticklabels(labels)
    ax.tick_params(axis='y', direction='out', length=5, width=1.0, color=INK,
                   labelsize=size, pad=2, labelcolor=INK)


def hdot(ax, v, a, b, ls=DOT, lw=0.9):
    ax.plot([a, b], [v, v], color='k', ls=ls, lw=lw, zorder=1)


def curve(ax, d, v, color, lw=1.5, ls='-', marker=None, ms=6.5, z=3):
    ax.plot(d, v, color=color, lw=lw, ls=ls, marker=marker, ms=ms, mec='k', mfc='k',
            mew=0.8, zorder=z, solid_joinstyle='round')


# ---------- chronology bar + boundaries ----------
def chrono(p, bounds, names, name_d, boxes, dividers, age_lab, age_d, points, bnd, yname,
           yage, ybox, ybase, ytri):
    x0, x1, d0, d1 = PAN[p]
    ax = fig.add_axes([x0 / W, 0, (x1 - x0) / W, 1])
    ax.set_xlim(d0, d1)
    ax.set_ylim(H, 0)
    ax.axis('off')
    ax.plot([d0, d1], [13, 13], color=INK, lw=1.1, clip_on=False)
    ax.vlines(bounds, 13, 28, color=INK, lw=1.1)
    for n, d in zip(names, name_d):
        ax.text(d, yname, n, ha='center', va='center', fontsize=11.5, fontweight='bold', color=INK)
    for t, d in zip(age_lab, age_d):
        ax.text(d, yage, t, ha='center', va='center', fontsize=10.5, color=INK, clip_on=False)
    for a, b in boxes:
        ax.add_patch(Rectangle((a, ybox), b - a, ybase - ybox, facecolor='#a0a0a0',
                               edgecolor=INK, lw=0.8, zorder=2))
    ax.vlines(dividers, ybox, ybase, color=INK, lw=0.8, zorder=3)
    ax.plot([d0, d1], [ybase, ybase], color=INK, lw=1.1, zorder=3)
    ax.vlines(np.arange(d0, d1 + 1, 10), ybase - 4, ybase, color=INK, lw=0.9)
    ax.plot(points, [ytri] * len(points), ls='none', marker='^', ms=5, color='k', zorder=4)
    ax.vlines(bnd, ybase + 3, 961, color='k', lw=0.9, linestyles=(0, (3.5, 3)), zorder=1)
    return ax


chrono('A', a_epoch_bounds, a_epoch_names, a_epoch_label_depth, a_age_boxes, a_age_box_dividers,
       a_age_labels, a_age_label_depth, a_age_points, a_boundaries, 20.5, 34.5, 43.5, 48.5, 52.5)
chrono('B', b_epoch_bounds, b_epoch_names, b_epoch_label_depth, b_age_boxes, b_age_box_dividers,
       b_age_labels, b_age_label_depth, b_age_points, b_boundaries, 22, 37.5, 45, 50, 54)

# ======================= PANEL A =======================
ax = vaxis('A', 52.5, 0, 124.8, -1)
yspine(ax, 'right', 562, -1, 0, [0, -0.5, -1], ['0', '[‰]', '-1'])
hdot(ax, -0.5, 96, 200)
curve(ax, a_c13cib_d, a_c13cib, RED, lw=1.5, marker='+')

ax = vaxis('A', 83.7, 1.0, 158.7, 0)
yspine(ax, 'left', 68, 0, 1.0, [0, 0.5, 1.0], ['0', '[‰]', '1.0'])
hdot(ax, 0.5, 0, 200)
curve(ax, a_c13nps_d, a_c13nps, 'k', lw=1.9)

ax = vaxis('A', 234.5, 0, 199, 20)
yspine(ax, 'right', 562, 0, 40, [0, 20, 40], ['0', '[wt%]', '40'])
hdot(ax, 20, 19, 200)
curve(ax, a_opal_d, a_opal, 'k', lw=0.9, ls=(0, (1.5, 1.5)), marker='+', ms=6)

ax = vaxis('A', 361.5, 0, 213, 10000)
yspine(ax, 'left', 68, 0, 10000, [0, 2000, 4000, 6000, 8000, 10000],
       ['0', '2000', '', '6000', '[ng/g]', '10000'])
hdot(ax, 4000, 15, 200)
curve(ax, a_chl_d, a_chl, 'k', lw=1.7, marker='+')

ax = vaxis('A', 261, 1.0, 312, 0.5)
yspine(ax, 'left', 108, 0.274, 1.5, [0.5, 1.0], ['0.5', '1.0'])
hdot(ax, 1.0, 18, 200)
curve(ax, a_toc_d, a_toc, GREEN, lw=1.7)

ax = vaxis('A', 351.8, 40, 454.5, 0)
yspine(ax, 'right', 464, 0, 40, [0, 20, 40], ['0', '20', '40'])
hdot(ax, 20, 107, 161)
curve(ax, a_caco3_d, a_caco3, ORANGE, lw=1.8, z=4)

ax = vaxis('A', 372.2, 2000, 455.5, 0)
yspine(ax, 'right', 562, 0, 2000, [0, 1000, 2000], ['0', '[cps]', '2000'])
hdot(ax, 1000, 0, 200)
curve(ax, a_ca_d, a_ca, 'k', lw=0.8, ls=(0, (1, 1)))

ax = vaxis('A', 446.4, 14, 601.8, 4)
yspine(ax, 'left', 68, 4, 14, [4, 6, 8, 10, 12, 14], ['', '6', '[°C]', '10', '', '14'])
hdot(ax, 8, 0, 200)
hdot(ax, 6, 0, 200)
curve(ax, a_mgca_d, a_mgca, LBLUE, lw=1.7)
curve(ax, a_simmax_d, a_simmax, 'k', lw=1.7, marker='+', z=4)

ax = vaxis('A', 605, 2, 790, 5)
yspine(ax, 'left', 68, 2, 5.5, np.arange(2, 5.51, 0.5), ['2', '[‰]', '3', '', '4', '', '5', ''])
hdot(ax, 5, 0, 200)
hdot(ax, 3, 150, 200)
curve(ax, a_o18nps_d, a_o18nps, 'k', lw=0.8, ls=(0, (3.5, 1.5)))
curve(ax, a_gbull_d, a_gbull, DBLUE, lw=1.9, marker='+')
curve(ax, a_o18cib_d, a_o18cib, RED, lw=1.6, marker='+', z=3)
curve(ax, a_uvi_d, a_uvi, 'k', lw=1.9, z=4)
brine_start = [73, 74.7, 76.3, 77.9, 79.8, 82.7, 84.4, 86.0]
for sd, td, tv in zip(brine_start, a_brine_d, a_brine):
    ax.plot([sd, td], [2.52, tv - 0.07], color='k', lw=0.6, zorder=2)
ax.plot(a_brine_d, a_brine, ls='none', marker='^', ms=5.5, mfc=RED, mec='#551111', mew=0.5, zorder=6)
ax2 = vaxis('A', 605, 2, 790, 5)
yspine(ax2, 'right', 562, 2, 4.5, np.arange(2, 4.51, 0.5), ['2', '[‰]', '3', '', '4', ''])

ax = vaxis('A', 868.9, 0, 824.8, 40)
yspine(ax, 'right', 562, 0, 40, [0, 20, 40], ['0', '[%]', '40'])
curve(ax, a_ird_d, a_ird, GREY, lw=1.7, marker='+')

ax = vaxis('A', 950.7, 10, 890.1, 40)
yspine(ax, 'left', 68, 5, 40, [10, 20, 30, 40], ['10', 'Ky]', '[cm/', '40'])
curve(ax, a_sed_d, a_sed, 'k', lw=1.9)

# ======================= PANEL B =======================
ax = vaxis('B', 64, 0, 139.6, -1)
yspine(ax, 'left', 740, -1, 0.05, [0, -0.5, -1], ['0', '[‰]', '-1'])
hdot(ax, -0.5, 50, 250)
hdot(ax, -1, 50, 250)
curve(ax, b_c13cib_d, b_c13cib, RED, lw=1.5, marker='+')

ax = vaxis('B', 139.6, 0.5, 180.7, 0)
yspine(ax, 'right', 1233, -0.5, 0.6, [-0.5, 0, 0.5], ['-0.5', '[‰]', '0.5'])
curve(ax, b_c13nps_d, b_c13nps, 'k', lw=1.9)

ax = vaxis('B', 258.9, 0, 221.8, 20)
yspine(ax, 'left', 740, 0, 40, [0, 20, 40], ['0', '[wt%]', '40'])
hdot(ax, 20, 50, 250)
curve(ax, b_opal_d, b_opal, 'k', lw=0.9, ls=(0, (3, 1.5)), marker='+', ms=6)

ax = vaxis('B', 264.9, 1.0, 312.6, 0.5)
yspine(ax, 'right', 740, 0.1, 1.03, [0.5, 1.0], ['0.5', '1'])
hdot(ax, 0.5, 57, 91, ls=(0, (3, 2.5)))
curve(ax, b_toc_d, b_toc, GREEN, lw=1.7)

ax = vaxis('B', 363.6, 0, 274.7, 6000)
yspine(ax, 'right', 1233, 0, 7100, [0, 2000, 4000, 6000], ['', '2000', '[ng/g]', '6000'])
hdot(ax, 4000, 127.6, 250)
curve(ax, b_chl_d, b_chl, 'k', lw=1.7, marker='+')

ax = vaxis('B', 374.2, 3000, 496.7, 0)
yspine(ax, 'left', 740, 0, 3000, [0, 1000, 2000, 3000], ['0', '1000', '[cps]', '3000'])
hdot(ax, 2000, 51, 241.5)
curve(ax, b_ca_d, b_ca, 'k', lw=0.8, ls=(0, (1, 1)))

ax = vaxis('B', 375, 40, 495, 0)
yspine(ax, 'right', 1233, 0, 40, [0, 20, 40], ['0', '20', '40'])
hdot(ax, 20, 158.5, 250)
curve(ax, b_caco3_d, b_caco3, ORANGE, lw=1.8)

ax = vaxis('B', 525, 8, 586.3, 4)
yspine(ax, 'right', 1233, 2, 8.76, [2, 4, 6, 8], ['', '4', '[°C]', '8'])
hdot(ax, 8, 50, 241)
hdot(ax, 6, 50, 250)
curve(ax, b_mgca_nps_d, b_mgca_nps, LBLUE, lw=1.7, marker='+')
curve(ax, b_mgca_gb_d, b_mgca_gb, DBLUE, lw=1.7, marker='+')
curve(ax, b_simmax_d, b_simmax, 'k', lw=1.7, marker='+', z=4)

ax = vaxis('B', 650.7, 3, 712.7, 4)
yspine(ax, 'left', 740, 2.5, 4, [2.5, 3, 3.5, 4], ['[‰]', '3', '', '4'])
hdot(ax, 3, 171.4, 250)
curve(ax, b_o18nps_d, b_o18nps, 'k', lw=0.8, ls=(0, (3.5, 1.5)))
curve(ax, b_gbull_d, b_gbull, DBLUE, lw=1.8, marker='+')

ax = vaxis('B', 740.7, 4, 802.7, 5)
yspine(ax, 'right', 1233, 3.5, 5.2, [3.5, 4, 4.5, 5], ['[‰]', '4', '', '5'])
ax.plot([123, 250], [4, 4], color='k', lw=0.8, zorder=1)
curve(ax, b_o18cib_d, b_o18cib, RED, lw=1.6, marker='+')
ax.text(b_o18cib_outlier[0], b_o18cib_outlier[1], '(+)', ha='center', va='center', fontsize=8)

ax = vaxis('B', 903.6, 0, 818.9, 80)
yspine(ax, 'left', 740, 0, 89, [0, 20, 40, 60, 80], ['0', '', '40', '[%]', '80'])
curve(ax, b_ird_d, b_ird, GREY, lw=1.7, marker='+')

ax = vaxis('B', 908.5, 20, 938.5, 10)
yspine(ax, 'right', 1233, 2.6, 37, [10, 20, 30], ['10', '20', ''])
curve(ax, b_sed_d, b_sed, 'k', lw=1.9)


# ---------- depth axes ----------
def xaxis(p, ypx, labels_at):
    x0, x1, d0, d1 = PAN[p]
    ax = fig.add_axes([x0 / W, 1 - ypx / H, (x1 - x0) / W, 0.0001])
    ax.patch.set_visible(False)
    for k in ['left', 'right', 'top']:
        ax.spines[k].set_visible(False)
    ax.spines['bottom'].set_color(INK)
    ax.spines['bottom'].set_linewidth(1.1)
    ax.set_xlim(d0, d1)
    ax.set_yticks([])
    ticks = np.arange(d0, d1 + 1, 10)
    ax.set_xticks(ticks)
    ax.set_xticklabels([str(int(t)) if t in labels_at else '' for t in ticks])
    ax.tick_params(axis='x', direction='out', length=5, width=1.0, color=INK,
                   labelsize=12.5, pad=6, labelcolor=INK)


xaxis('A', 961, [0, 40, 120, 160, 200])
xaxis('B', 961, [50, 90, 170, 210, 250])

# ======================= TEXT OVERLAY =======================
ov = fig.add_axes([0, 0, 1, 1])
ov.set_xlim(0, W)
ov.set_ylim(H, 0)
ov.axis('off')
ov.set_zorder(20)


def rich(x, y, parts, color=INK, size=12.5):
    base = None
    prev = None
    for txt, kind in parts:
        kw = dict(color=color, fontsize=size, fontweight='normal', fontstyle='normal')
        if kind == 'd':
            kw['family'] = ['Liberation Serif', 'DejaVu Serif']
            kw['fontsize'] = size * 1.05
        elif kind == 's':
            kw['fontsize'] = size * 0.66
        elif kind == 'sub':
            kw['fontsize'] = size * 0.72
            kw['fontweight'] = 'bold'
        elif kind == 'b':
            kw['fontweight'] = 'bold'
        elif kind == 'bi':
            kw['fontweight'] = 'bold'
            kw['fontstyle'] = 'italic'
        if prev is None:
            t = ov.text(x, y, txt, ha='left', va='center', **kw)
            base = t
        elif kind == 's':
            t = ov.annotate(txt, xy=(1, 0.5), xycoords=(prev, base), ha='left', va='bottom', **kw)
        else:
            t = ov.annotate(txt, xy=(1, 0), xycoords=(prev, base), ha='left', va='bottom', **kw)
        prev = t


def d13(label_parts):
    return [('δ', 'd'), ('13', 's')] + label_parts


def d18(label_parts):
    return [('δ', 'd'), ('18', 's')] + label_parts


# Panel A labels
ov.text(82, 75, 'A', fontsize=31, va='center', ha='left', color=INK)
rich(370, 67, d13([('C ', 'b'), ('Cibicidoides', 'bi'), (' spp.', 'b')]), color=RED)
rich(118, 103, d13([('C ', 'b'), ('Nps', 'bi')]))
ov.text(486, 124, 'high nutrients', fontsize=13, ha='center', va='center', color=INK)
ov.annotate('', xy=(551, 149), xytext=(551, 113),
            arrowprops=dict(arrowstyle='-|>', color='k', lw=1.3, mutation_scale=15))
rich(431, 206, [('Biogenic opal', 'b')])
ov.text(103, 219, '[wt', fontsize=12.5, ha='right', va='center', color=INK)
ov.text(103, 240, '%]', fontsize=12.5, ha='right', va='center', color=INK)
rich(196, 278, [('TOC', 'b')], color=GREEN)
rich(262, 331, [('Chlorins', 'b')])
rich(340, 389, [('CaCO', 'b'), ('3', 'sub')], color=ORANGE)
ov.text(472, 377, '[wt%]', fontsize=12.5, ha='left', va='center', color=INK)
rich(199, 436, [('Ca (XRF)', 'b')])
rich(82, 518, [('SIMMAX SST', 'b')])
rich(232, 577, [('Mg/Ca SST, ', 'b'), ('Nps', 'bi'), ('.', 'b')], color=CYAN)
rich(165, 632, d18([('O brine water signals (', 'b'), ('C.', 'bi'), (' spp.)', 'b')]), color=RED)
rich(445, 650, d18([('O ', 'b'), ('G. bull.', 'bi')]), color=DBLUE)
rich(445, 741, d18([('O ', 'b'), ('Nps', 'bi')]))
rich(80, 738, d18([('O', 'b')]))
rich(80, 760, [('Uvigerina', 'bi'), (' spp.', 'b')])
rich(182, 818, d18([('O ', 'b'), ('Cibicidoides', 'bi'), (' spp.', 'b')]), color=RED)
rich(326, 850, [('IRD', 'b')])
rich(78, 926, [('Sedimentation rate', 'b')])
ov.text(280, 984, 'Depth [cm]', fontsize=12.5, ha='center', va='center', color=INK)

# Panel B labels
ov.text(752, 80, 'B', fontsize=31, va='center', ha='left', color=INK)
rich(985, 77, d13([('C ', 'b'), ('Cibicidoides', 'bi'), (' spp.', 'b')]), color=RED)
rich(746, 121, d13([('C ', 'b'), ('Nps', 'bi')]))
ov.text(1150, 147, 'high nutrients', fontsize=13, ha='center', va='center', color=INK)
ov.annotate('', xy=(1215, 167), xytext=(1215, 134),
            arrowprops=dict(arrowstyle='-|>', color='k', lw=1.3, mutation_scale=15))
rich(752, 213, [('Biogenic opal', 'b')])
ov.text(746, 286, '[wt%]', fontsize=12.5, ha='left', va='center', color=INK)
rich(805, 297, [('TOC', 'b')], color=GREEN)
rich(1153, 357, [('Chlorins', 'b')])
rich(762, 406, [('Ca (XRF)', 'b')])
ov.text(1243, 407, '[wt%]', fontsize=12.5, ha='left', va='center', color=INK)
rich(1028, 452, [('CaCO', 'b'), ('3', 'sub')], color=ORANGE)
rich(755, 500, [('SIMMAX SST', 'b')])
rich(1063, 545, [('Mg/Ca SST, ', 'b'), ('G. bull.', 'bi')], color=DBLUE)
rich(958, 587, [('Mg/Ca SST, ', 'b'), ('Nps', 'bi')], color=CYAN)
rich(1037, 633, d18([('O ', 'b'), ('G. bull.', 'bi')]), color=DBLUE)
rich(897, 680, d18([('O ', 'b'), ('Nps', 'bi')]))
rich(1040, 755, d18([('O ', 'b'), ('Cibicidoides', 'bi'), (' spp.', 'b')]), color=RED)
rich(757, 884, [('IRD', 'b')])
rich(1068, 926, [('Sedimentation rate', 'b')])
ov.text(1243, 866, '[cm/', fontsize=12.5, ha='left', va='center', color=INK)
ov.text(1248, 888, 'Ky]', fontsize=12.5, ha='left', va='center', color=INK)
ov.text(945, 986, 'Depth [cm]', fontsize=12.5, ha='center', va='center', color=INK)

fig.savefig('out.png', dpi=100, facecolor='white')
